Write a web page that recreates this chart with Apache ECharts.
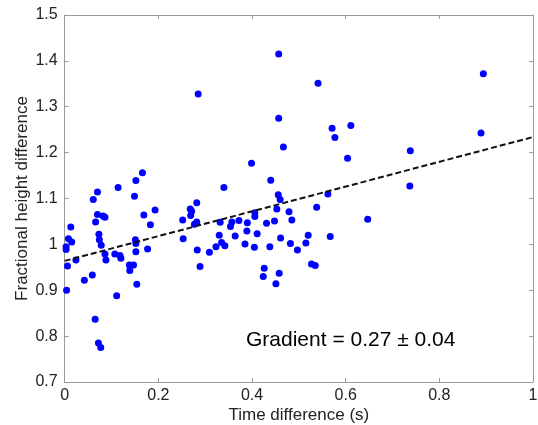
<!DOCTYPE html>
<html><head><meta charset="utf-8">
<script src="https://cdn.jsdelivr.net/npm/echarts@6/dist/echarts.min.js"></script>
<style>html,body{margin:0;padding:0;background:#fff}#c{width:538px;height:425px}</style>
</head><body><div id="c"></div>
<script>
const timeDiff = [0.061,0.070,0.114,0.152,0.166,0.149,0.285,0.340,0.070,0.082,0.086,0.066,0.169,0.183,0.013,0.073,0.074,0.008,0.015,0.003,0.003,0.078,0.151,0.152,0.152,0.177,0.086,0.107,0.118,0.120,0.193,0.006,0.024,0.088,0.138,0.147,0.139,0.059,0.042,0.154,0.004,0.111,0.065,0.072,0.077,0.252,0.268,0.271,0.282,0.269,0.282,0.277,0.332,0.357,0.372,0.354,0.330,0.364,0.253,0.335,0.342,0.323,0.309,0.283,0.289,0.390,0.389,0.411,0.385,0.405,0.406,0.406,0.431,0.448,0.453,0.456,0.460,0.440,0.479,0.485,0.461,0.438,0.482,0.515,0.497,0.520,0.538,0.562,0.567,0.647,0.527,0.535,0.426,0.424,0.458,0.451,0.457,0.541,0.457,0.571,0.611,0.577,0.467,0.604,0.399,0.738,0.737,0.894,0.889];
const heightDiff = [1.098,1.114,1.124,1.139,1.156,1.105,1.328,1.124,1.065,1.062,1.059,1.049,1.064,1.043,1.038,1.022,1.010,1.012,1.005,0.995,0.989,0.998,1.010,1.002,0.984,0.990,0.979,0.979,0.976,0.970,1.075,0.953,0.966,0.966,0.955,0.955,0.943,0.933,0.922,0.913,0.900,0.888,0.837,0.785,0.775,1.053,1.077,1.072,1.091,1.063,1.049,1.044,1.048,1.049,1.052,1.039,1.020,1.018,1.012,1.004,0.997,0.995,0.983,0.988,0.952,1.047,1.029,1.023,1.001,0.994,1.069,1.061,1.046,1.051,1.077,1.108,1.098,1.140,1.071,1.053,1.014,0.995,1.002,1.003,0.988,1.020,1.081,1.110,1.017,1.055,0.957,0.954,0.948,0.930,0.937,0.914,1.415,1.351,1.275,1.253,1.259,1.233,1.212,1.188,1.177,1.204,1.127,1.372,1.243];
const fitX = [0, 1];
const fitY = [0.964, 1.234];
const annotation = 'Gradient = 0.27 \u00B1 0.04';

const font = 'Liberation Sans, Arial, sans-serif';
const axisGrey = '#9a9a9a';
const chart = echarts.init(document.getElementById('c'), null, {renderer: 'canvas'});
const frameAxis = (pos) => ({
  axisLine: {show: true, onZero: false, lineStyle: {color: axisGrey, width: 1}},
  axisTick: {show: true, inside: true, length: 4, lineStyle: {color: axisGrey}},
  splitLine: {show: false},
  position: pos
});
chart.setOption({
  animation: false,
  backgroundColor: '#fff',
  grid: {left: 64.7, right: 5, top: 15, bottom: 43, containLabel: false, outerBoundsMode: 'none'},
  xAxis: [
    Object.assign(frameAxis('bottom'), {
      type: 'value', min: 0, max: 1, interval: 0.2,
      axisLabel: {color: '#222', fontSize: 16, fontFamily: font, margin: 6},
      name: 'Time difference (s)', nameLocation: 'middle', nameGap: 25, nameMoveOverlap: false,
      nameTextStyle: {color: '#222', fontSize: 17, fontFamily: font}
    }),
    Object.assign(frameAxis('top'), {
      type: 'value', min: 0, max: 1, interval: 0.2, axisLabel: {show: false}
    })
  ],
  yAxis: [
    Object.assign(frameAxis('left'), {
      type: 'value', min: 0.7, max: 1.5, interval: 0.1,
      axisLabel: {color: '#222', fontSize: 16, fontFamily: font, margin: 7},
      name: 'Fractional height difference', nameLocation: 'middle', nameGap: 34, nameMoveOverlap: false,
      nameTextStyle: {color: '#222', fontSize: 17, fontFamily: font}
    }),
    Object.assign(frameAxis('right'), {
      type: 'value', min: 0.7, max: 1.5, interval: 0.1, axisLabel: {show: false}
    })
  ],
  series: [
    {
      type: 'scatter', symbol: 'circle', symbolSize: 7,
      itemStyle: {color: '#0000ff', opacity: 1},
      data: timeDiff.map((x, i) => [x, heightDiff[i]]), z: 2
    },
    {
      type: 'line', symbol: 'none', z: 3,
      lineStyle: {color: '#111', width: 2, type: [6, 3]},
      data: fitX.map((x, i) => [x, fitY[i]])
    }
  ],
  graphic: [{
    type: 'text', left: 246, top: 330,
    style: {text: annotation, fill: '#000', font: '21px ' + font}
  }]
});
</script></body></html>
